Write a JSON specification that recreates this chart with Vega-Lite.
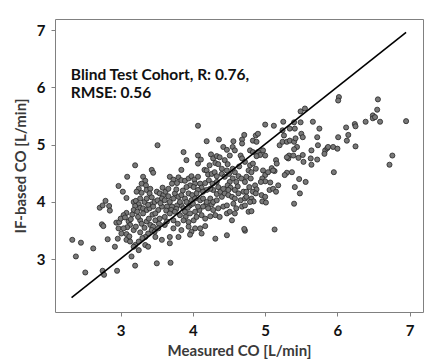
{
  "$schema": "https://vega.github.io/schema/vega-lite/v6.json",
  "width": 368,
  "height": 293,
  "autosize": {"type": "none"},
  "padding": {"left": 55, "top": 19, "right": 17, "bottom": 52},
  "background": "white",
  "config": {
    "view": {"stroke": "#808080", "strokeWidth": 1},
    "axis": {
      "domain": false, "grid": false, "tickColor": "#808080", "tickSize": 4,
      "labelFont": "Lato", "labelFontWeight": "bold", "labelFontSize": 15, "labelColor": "#111111",
      "titleFont": "Lato", "titleFontWeight": "bold", "titleFontSize": 15, "titleColor": "#3a3a3a"
    }
  },
  "layer": [
    {
      "data": {"values": [
        {"m":2.33,"p":3.34},{"m":2.45,"p":3.29},{"m":2.38,"p":3.05},{"m":2.62,"p":3.19},{"m":2.51,"p":2.77},{"m":2.75,"p":2.80},{"m":2.77,"p":2.73},{"m":2.95,"p":2.80},{"m":2.82,"p":3.35},{"m":2.92,"p":3.22},{"m":2.96,"p":3.36},{"m":2.74,"p":3.61},{"m":2.76,"p":3.58},{"m":2.94,"p":3.64},{"m":2.98,"p":3.65},{"m":2.97,"p":3.54},{"m":2.71,"p":3.90},{"m":2.75,"p":3.94},{"m":2.79,"p":4.02},{"m":2.84,"p":3.93},{"m":2.85,"p":3.85},{"m":2.97,"p":4.28},
        {"m":3.20,"p":4.64},{"m":3.09,"p":4.44},{"m":3.03,"p":4.18},{"m":3.08,"p":4.07},{"m":3.31,"p":4.44},{"m":3.34,"p":4.37},{"m":3.29,"p":4.32},{"m":3.35,"p":4.29},{"m":3.25,"p":4.23},{"m":3.22,"p":4.18},{"m":3.29,"p":4.16},{"m":3.36,"p":4.21},{"m":3.41,"p":4.23},{"m":3.40,"p":4.15},{"m":3.43,"p":4.56},{"m":3.45,"p":4.51},{"m":3.18,"p":4.00},{"m":3.21,"p":4.02},{"m":3.25,"p":3.96},{"m":3.20,"p":3.93},{"m":3.27,"p":3.90},{"m":3.18,"p":3.86},{"m":3.23,"p":3.83},{"m":3.31,"p":3.89},{"m":3.36,"p":3.86},{"m":3.40,"p":3.89},{"m":3.43,"p":3.96},{"m":3.45,"p":3.92},{"m":3.47,"p":4.00},{"m":3.08,"p":3.81},{"m":3.04,"p":3.77},{"m":3.00,"p":3.71},{"m":3.06,"p":3.73},{"m":3.11,"p":3.66},{"m":3.13,"p":3.60},{"m":3.09,"p":3.56},{"m":3.04,"p":3.54},{"m":3.01,"p":3.45},{"m":3.08,"p":3.44},{"m":3.18,"p":3.51},{"m":3.21,"p":3.57},{"m":3.27,"p":3.68},{"m":3.29,"p":3.62},{"m":3.36,"p":3.66},{"m":3.41,"p":3.60},{"m":3.45,"p":3.57},{"m":3.43,"p":3.51},{"m":3.47,"p":3.48},{"m":3.38,"p":3.45},{"m":3.34,"p":3.39},{"m":3.08,"p":3.34},{"m":3.13,"p":3.31},{"m":3.20,"p":3.25},{"m":3.25,"p":3.31},{"m":3.30,"p":3.37},{"m":3.34,"p":3.25},{"m":3.38,"p":3.22},{"m":3.18,"p":3.22},{"m":3.25,"p":3.16},{"m":3.15,"p":3.05},{"m":3.20,"p":2.89},
        {"m":3.27,"p":4.06},{"m":3.33,"p":4.00},{"m":3.38,"p":3.95},{"m":3.31,"p":3.80},{"m":3.24,"p":3.74},{"m":3.16,"p":3.78},{"m":3.14,"p":3.70},{"m":3.33,"p":3.55},{"m":3.39,"p":3.71},{"m":3.44,"p":3.78},{"m":3.36,"p":4.06},{"m":3.43,"p":4.08},{"m":3.27,"p":3.47},{"m":3.12,"p":3.40},
        {"m":3.51,"p":4.99},{"m":4.19,"p":5.06},{"m":4.42,"p":4.96},{"m":4.47,"p":4.91},{"m":4.55,"p":4.96},{"m":4.58,"p":4.90},{"m":4.51,"p":4.81},{"m":4.66,"p":4.81},{"m":4.68,"p":4.76},{"m":4.72,"p":4.70},{"m":3.87,"p":4.87},{"m":3.91,"p":4.73},{"m":4.07,"p":4.81},{"m":4.11,"p":4.74},{"m":4.07,"p":4.67},{"m":4.25,"p":4.83},{"m":4.28,"p":4.76},{"m":4.33,"p":4.80},{"m":4.37,"p":4.78},{"m":4.31,"p":4.68},{"m":4.35,"p":4.66},{"m":4.44,"p":4.73},{"m":4.48,"p":4.66},{"m":4.40,"p":4.58},{"m":3.84,"p":4.56},{"m":4.16,"p":4.56},{"m":4.19,"p":4.55},{"m":4.21,"p":4.48},{"m":4.26,"p":4.49},{"m":4.30,"p":4.52},{"m":4.33,"p":4.45},{"m":4.40,"p":4.49},{"m":4.44,"p":4.44},{"m":4.50,"p":4.49},{"m":4.58,"p":4.52},{"m":4.63,"p":4.45},{"m":4.67,"p":4.41},{"m":4.60,"p":4.35},{"m":4.55,"p":4.41},{"m":4.51,"p":4.35},{"m":4.48,"p":4.29},
        {"m":3.68,"p":4.44},{"m":3.73,"p":4.39},{"m":3.80,"p":4.43},{"m":3.78,"p":4.33},{"m":3.71,"p":4.32},{"m":3.84,"p":4.38},{"m":3.89,"p":4.37},{"m":3.94,"p":4.41},{"m":3.98,"p":4.45},{"m":4.02,"p":4.39},{"m":4.07,"p":4.44},{"m":4.03,"p":4.32},{"m":3.96,"p":4.29},{"m":3.91,"p":4.26},{"m":4.01,"p":4.26},{"m":4.10,"p":4.32},{"m":4.12,"p":4.25},{"m":4.17,"p":4.33},{"m":4.22,"p":4.38},{"m":4.27,"p":4.32},{"m":4.33,"p":4.35},{"m":4.35,"p":4.26},{"m":4.28,"p":4.21},{"m":4.24,"p":4.23},{"m":4.19,"p":4.21},{"m":4.14,"p":4.18},{"m":4.07,"p":4.21},{"m":4.05,"p":4.15},
        {"m":3.50,"p":4.18},{"m":3.54,"p":4.15},{"m":3.59,"p":4.12},{"m":3.62,"p":4.18},{"m":3.66,"p":4.10},{"m":3.57,"p":4.06},{"m":3.51,"p":4.03},{"m":3.61,"p":4.03},{"m":3.68,"p":4.00},{"m":3.73,"p":4.06},{"m":3.75,"p":4.15},{"m":3.80,"p":4.09},{"m":3.84,"p":4.12},{"m":3.89,"p":4.06},{"m":3.94,"p":4.15},{"m":3.91,"p":4.00},{"m":3.98,"p":4.03},{"m":3.96,"p":3.94},{"m":3.84,"p":3.94},{"m":3.78,"p":3.94},{"m":3.71,"p":3.92},{"m":3.64,"p":3.92},{"m":3.57,"p":3.92},{"m":3.52,"p":3.86},{"m":3.48,"p":3.80},
        {"m":3.55,"p":3.98},{"m":3.63,"p":3.85},{"m":3.70,"p":3.86},{"m":3.77,"p":3.88},{"m":3.82,"p":4.00},{"m":3.87,"p":3.89},{"m":3.93,"p":3.90},{"m":4.00,"p":3.97},{"m":3.66,"p":4.23},{"m":3.58,"p":4.25},{"m":3.77,"p":4.22},{"m":3.86,"p":4.20},{"m":3.99,"p":4.12},{"m":3.53,"p":3.62},{"m":3.64,"p":3.66},{"m":3.79,"p":3.62},{"m":3.90,"p":3.74},{"m":4.09,"p":3.86},{"m":4.18,"p":3.95},{"m":4.26,"p":3.96},{"m":4.33,"p":4.14},{"m":4.38,"p":4.18},{"m":4.52,"p":4.25},{"m":4.62,"p":4.27},{"m":4.55,"p":4.58},{"m":4.64,"p":4.62},{"m":4.23,"p":4.64},{"m":4.47,"p":4.55},
        {"m":4.03,"p":4.06},{"m":4.10,"p":4.03},{"m":4.14,"p":4.06},{"m":4.19,"p":4.00},{"m":4.24,"p":4.06},{"m":4.28,"p":4.00},{"m":4.33,"p":4.03},{"m":4.40,"p":4.09},{"m":4.44,"p":4.15},{"m":4.49,"p":4.12},{"m":4.54,"p":4.09},{"m":4.58,"p":4.06},{"m":4.63,"p":4.15},{"m":4.66,"p":4.03},{"m":4.72,"p":4.06},{"m":4.70,"p":4.18},{"m":4.58,"p":4.21},{"m":4.49,"p":4.21},{"m":4.42,"p":4.23},
        {"m":4.07,"p":3.92},{"m":4.14,"p":3.92},{"m":4.21,"p":3.89},{"m":4.28,"p":3.86},{"m":4.35,"p":3.89},{"m":4.42,"p":3.92},{"m":4.47,"p":3.94},{"m":4.56,"p":3.97},{"m":4.60,"p":3.89},{"m":4.68,"p":3.92},{"m":4.72,"p":3.94},
        {"m":3.48,"p":3.68},{"m":3.54,"p":3.71},{"m":3.61,"p":3.74},{"m":3.68,"p":3.80},{"m":3.75,"p":3.83},{"m":3.82,"p":3.77},{"m":3.89,"p":3.83},{"m":3.96,"p":3.80},{"m":4.03,"p":3.83},{"m":3.73,"p":3.68},{"m":3.87,"p":3.68},{"m":3.94,"p":3.65},{"m":4.01,"p":3.68},{"m":4.05,"p":3.74},{"m":4.12,"p":3.77},{"m":4.17,"p":3.71},{"m":4.24,"p":3.75},{"m":4.31,"p":3.77},{"m":4.37,"p":3.74},{"m":4.47,"p":3.80},{"m":4.51,"p":3.83},{"m":4.58,"p":3.80},{"m":4.54,"p":3.68},
        {"m":3.52,"p":3.54},{"m":3.61,"p":3.60},{"m":3.73,"p":3.54},{"m":3.84,"p":3.51},{"m":3.94,"p":3.57},{"m":4.03,"p":3.54},{"m":4.10,"p":3.54},{"m":3.98,"p":3.48},{"m":4.17,"p":3.58},{"m":3.48,"p":3.39},{"m":3.57,"p":3.34},{"m":3.68,"p":3.39},{"m":3.68,"p":3.28},{"m":3.80,"p":3.39},{"m":3.96,"p":3.43},{"m":4.12,"p":3.45},{"m":4.31,"p":3.36},{"m":4.47,"p":3.42},{"m":4.72,"p":3.50},{"m":3.50,"p":2.93},{"m":3.69,"p":2.94},
        {"m":4.07,"p":5.33},{"m":4.36,"p":5.09},{"m":4.56,"p":5.06},{"m":4.68,"p":5.09},{"m":4.71,"p":5.17},{"m":4.68,"p":5.02},
        {"m":5.55,"p":5.63},{"m":5.49,"p":5.58},{"m":5.66,"p":5.40},{"m":5.25,"p":5.40},{"m":5.40,"p":5.39},{"m":5.41,"p":5.28},{"m":5.34,"p":5.28},{"m":5.49,"p":5.39},{"m":5.12,"p":5.33},{"m":5.00,"p":5.35},{"m":5.75,"p":5.28},{"m":5.24,"p":5.25},{"m":5.26,"p":5.16},{"m":5.20,"p":4.99},{"m":5.24,"p":5.05},{"m":5.30,"p":5.05},{"m":5.50,"p":5.19},{"m":5.52,"p":5.13},{"m":5.34,"p":5.07},{"m":5.40,"p":5.05},{"m":5.42,"p":5.11},{"m":5.44,"p":4.96},{"m":5.40,"p":4.92},{"m":5.33,"p":4.81},{"m":5.39,"p":4.81},{"m":5.32,"p":4.76},{"m":5.52,"p":4.82},{"m":5.53,"p":4.70},{"m":5.46,"p":4.77},{"m":5.64,"p":4.90},{"m":5.63,"p":4.76},{"m":5.64,"p":4.65},{"m":5.73,"p":4.99},{"m":5.72,"p":4.74},{"m":5.83,"p":4.90},{"m":5.86,"p":4.94},{"m":5.72,"p":5.13},
        {"m":5.15,"p":4.73},{"m":5.16,"p":4.67},{"m":5.30,"p":4.78},{"m":5.09,"p":4.59},{"m":5.13,"p":4.54},{"m":5.37,"p":4.52},{"m":5.30,"p":4.51},{"m":5.27,"p":4.47},{"m":5.47,"p":4.40},{"m":5.56,"p":4.35},{"m":5.41,"p":4.26},{"m":5.48,"p":4.15},{"m":5.40,"p":3.97},
        {"m":4.87,"p":5.16},{"m":4.90,"p":5.19},{"m":4.83,"p":5.07},{"m":4.88,"p":5.05},{"m":4.79,"p":4.90},{"m":4.83,"p":4.87},{"m":4.90,"p":4.87},{"m":4.93,"p":4.82},{"m":4.88,"p":4.80},{"m":5.00,"p":4.81},{"m":4.97,"p":4.90},
        {"m":4.79,"p":4.64},{"m":4.83,"p":4.67},{"m":4.77,"p":4.55},{"m":4.81,"p":4.52},{"m":4.87,"p":4.58},{"m":4.74,"p":4.44},{"m":4.80,"p":4.41},{"m":4.72,"p":4.35},{"m":4.97,"p":4.55},{"m":5.00,"p":4.47},{"m":5.04,"p":4.52},{"m":5.11,"p":4.55},{"m":4.96,"p":4.41},{"m":5.00,"p":4.36},{"m":4.94,"p":4.35},{"m":5.07,"p":4.34},
        {"m":4.78,"p":4.26},{"m":4.86,"p":4.29},{"m":4.88,"p":4.22},{"m":4.83,"p":4.18},{"m":4.87,"p":4.15},{"m":4.74,"p":4.18},{"m":5.06,"p":4.21},{"m":5.11,"p":4.23},{"m":5.15,"p":4.18},{"m":5.18,"p":4.29},{"m":4.74,"p":4.09},{"m":4.81,"p":4.06},{"m":4.84,"p":4.01},{"m":4.79,"p":4.00},{"m":4.95,"p":4.12},{"m":5.00,"p":4.09},{"m":4.96,"p":4.01},{"m":5.01,"p":3.99},{"m":4.77,"p":3.83},{"m":4.81,"p":3.84},{"m":4.71,"p":3.53},{"m":5.13,"p":3.52},
        {"m":6.02,"p":5.83},{"m":6.01,"p":5.77},{"m":6.56,"p":5.79},{"m":6.55,"p":5.61},{"m":6.49,"p":5.51},{"m":6.49,"p":5.46},{"m":6.52,"p":5.48},{"m":6.59,"p":5.40},{"m":6.39,"p":5.40},{"m":6.24,"p":5.36},{"m":6.25,"p":5.32},{"m":6.12,"p":5.30},{"m":6.95,"p":5.41},{"m":6.15,"p":5.17},{"m":6.01,"p":5.13},{"m":6.13,"p":5.07},{"m":6.25,"p":4.97},{"m":5.87,"p":4.96},{"m":5.94,"p":4.96},{"m":6.00,"p":4.93},{"m":5.82,"p":4.84},{"m":6.76,"p":4.81},{"m":6.72,"p":4.65},{"m":5.95,"p":4.52}
      ]},
      "mark": {"type": "circle", "size": 26, "fill": "#787878", "stroke": "#262626", "strokeWidth": 0.8, "opacity": 1},
      "encoding": {
        "x": {"field": "m", "type": "quantitative", "scale": {"domain": [2.091, 7.184], "nice": false, "zero": false},
              "axis": {"values": [3, 4, 5, 6, 7], "format": "d", "title": "Measured CO [L/min]", "labelPadding": 7, "titlePadding": 5}},
        "y": {"field": "p", "type": "quantitative", "scale": {"domain": [2.081, 7.192], "nice": false, "zero": false},
              "axis": {"values": [3, 4, 5, 6, 7], "format": "d", "title": "IF-based CO [L/min]", "labelPadding": 6, "titlePadding": 8}}
      }
    },
    {
      "data": {"values": [{"m": 2.32, "p": 2.33}, {"m": 6.95, "p": 6.96}]},
      "mark": {"type": "line", "color": "#000000", "strokeWidth": 1.6},
      "encoding": {
        "x": {"field": "m", "type": "quantitative"},
        "y": {"field": "p", "type": "quantitative"}
      }
    },
    {
      "data": {"values": [{"m": 2.31, "p": 6.34, "t": "Blind Test Cohort, R: 0.76,\nRMSE: 0.56"}]},
      "mark": {"type": "text", "align": "left", "baseline": "top", "lineBreak": "\n", "lineHeight": 18, "font": "Lato", "fontWeight": "bold", "fontSize": 15.5, "color": "#111111"},
      "encoding": {
        "x": {"field": "m", "type": "quantitative"},
        "y": {"field": "p", "type": "quantitative"},
        "text": {"field": "t"}
      }
    }
  ]
}
